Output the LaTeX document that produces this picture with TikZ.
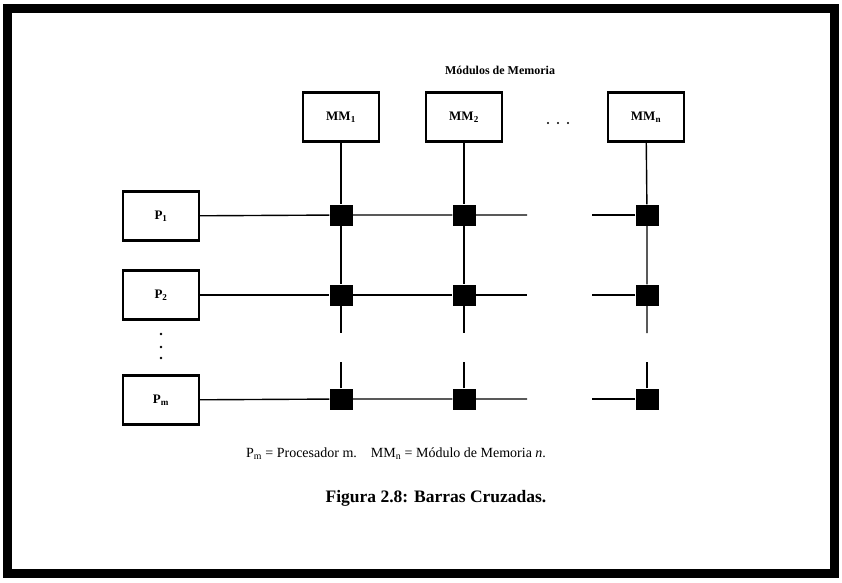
\documentclass[tikz,border=0pt]{standalone}
\usepackage{fontspec}
\setmainfont{Liberation Serif}
\usetikzlibrary{positioning}

\begin{document}
\begin{tikzpicture}[x=1pt, y=-1pt,
  font=\bfseries\fontsize{13}{15}\selectfont,
  unit/.style={draw, line width=2.4pt, minimum width=76pt, minimum height=49pt,
    inner sep=0pt},
  xpt/.style={fill=black, minimum width=23pt, minimum height=21pt, inner sep=0pt},
  bus/.style={line width=1.4pt},
]
\useasboundingbox (0,0) rectangle (842,582);
\draw[line width=9pt] (7,8) rectangle (834,573);

% memory modules
\node[font=\bfseries\fontsize{12}{14}\selectfont] (mods) at (500,70) {Módulos de Memoria};
\node[unit] (mm1) at (341,117) {MM\textsubscript{1}};
\node[unit] (mm2) at (464,117) {MM\textsubscript{2}};
\node[unit] (mmn) at (646,117) {MM\textsubscript{n}};
\foreach \x in {548,558,568} \fill (\x,123) circle (1.2pt);

% processors
\node[unit] (p1) at (161,216) {P\textsubscript{1}};
\node[unit] (p2) at (161,295) {P\textsubscript{2}};
\node[unit] (pm) at (161,400) {P\textsubscript{m}};
\foreach \y in {334,347,358} \fill (161,\y) circle (1.4pt);

% crossbar switches
\node[xpt] (s11) at (341,215) {};
\node[xpt] (s12) at (464,215) {};
\node[xpt] (s1n) at (647,215) {};
\node[xpt] (s21) at (341,295) {};
\node[xpt] (s22) at (464,295) {};
\node[xpt] (s2n) at (647,295) {};
\node[xpt] (sm1) at (341,399) {};
\node[xpt] (sm2) at (464,399) {};
\node[xpt] (smn) at (647,399) {};

% rows
\draw[bus] (p1) -- (s11) -- (s12) -- ++(63,0);
\draw[bus] (s1n) -- ++(-55,0);
\draw[bus] (p2) -- (s21) -- (s22) -- ++(63,0);
\draw[bus] (s2n) -- ++(-55,0);
\draw[bus] (pm) -- (sm1) -- (sm2) -- ++(63,0);
\draw[bus] (smn) -- ++(-55,0);

% columns
\draw[bus] (mm1) -- (s11) -- (s21) -- ++(0,38);
\draw[bus] (sm1) -- ++(0,-37);
\draw[bus] (mm2) -- (s12) -- (s22) -- ++(0,38);
\draw[bus] (sm2) -- ++(0,-37);
\draw[bus] (mmn) -- (s1n) -- (s2n) -- ++(0,38);
\draw[bus] (smn) -- ++(0,-37);

\node[font=\mdseries\fontsize{14}{16}\selectfont] (key) at (396,454)
  {P\textsubscript{m} = Procesador m.\quad MM\textsubscript{n} = Módulo de Memoria \textit{n}.};
\node[font=\bfseries\fontsize{17.5}{21}\selectfont] (cap) at (436,498)
  {Figura 2.8: Barras Cruzadas.};
\end{tikzpicture}
\end{document}
